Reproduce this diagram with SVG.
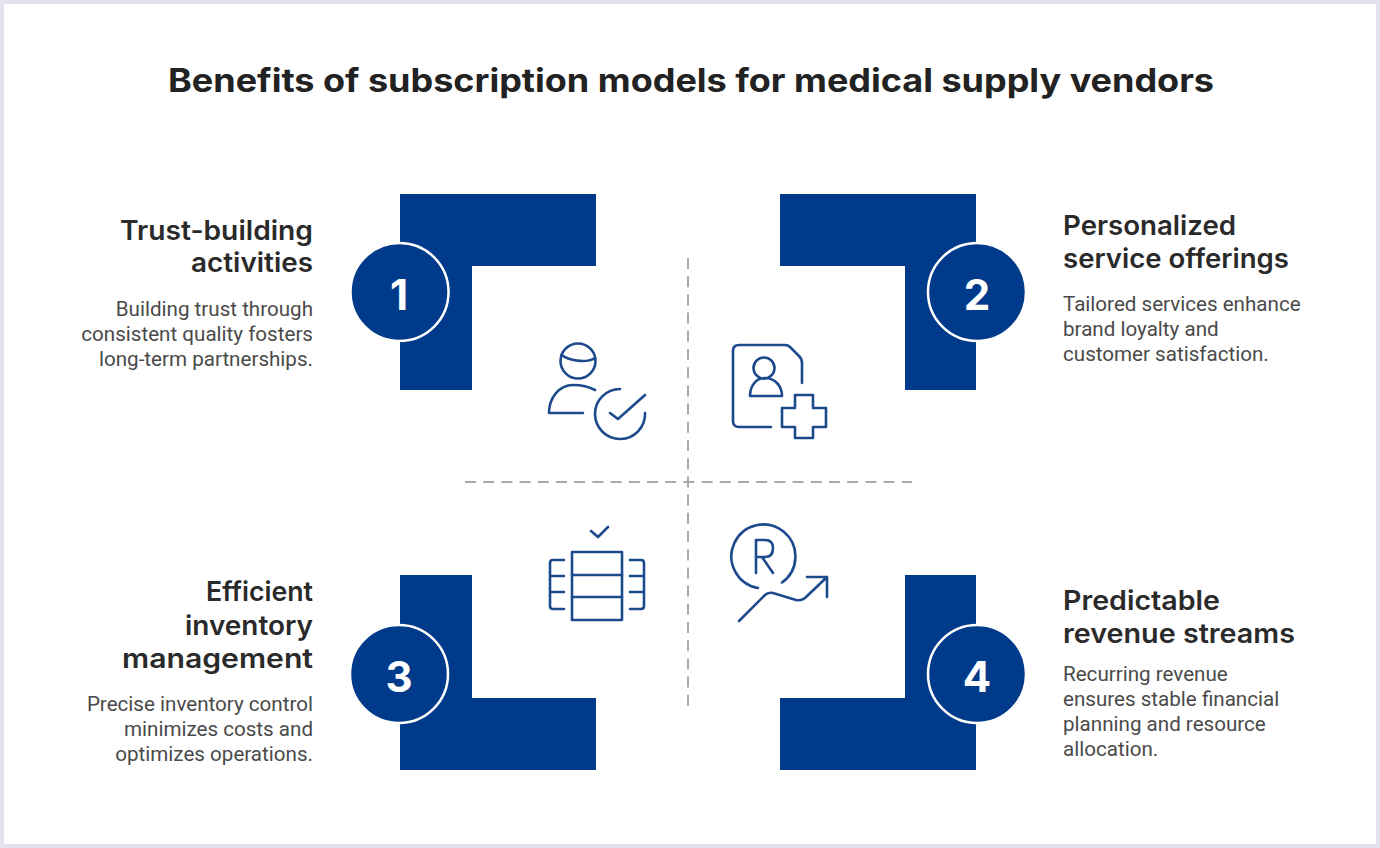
<svg xmlns="http://www.w3.org/2000/svg" width="1380" height="848" viewBox="0 0 1380 848">
<style>
.title{font-family:"Inter","Liberation Sans",sans-serif;font-weight:700;font-size:32px;fill:#222}
.h{font-family:"Inter","Liberation Sans",sans-serif;font-weight:600;font-size:27px;fill:#2a2a2a}
.b{font-family:"Roboto","Liberation Sans",sans-serif;font-size:20.6px;fill:#4a4a4a}
.e{text-anchor:end}
.blk{fill:#003a8a}
.c{fill:#003a8a;stroke:#fff;stroke-width:2.5}
.n{font-family:"Inter","Liberation Sans",sans-serif;font-weight:700;font-size:42px;fill:#fff;text-anchor:middle}
.i{fill:none;stroke:#1c4a8c;stroke-width:2.6;stroke-linecap:round;stroke-linejoin:round}
.d{stroke:#aaa;stroke-width:2;stroke-dasharray:11 7.2;fill:none}
</style>
<rect width="1380" height="848" fill="#e3e3f0"/>
<rect x="4" y="4" width="1372" height="840" fill="#fff"/>
<text class="title" x="168" y="92" textLength="1046" lengthAdjust="spacingAndGlyphs">Benefits of subscription models for medical supply vendors</text>
<g id="connectors">
<line class="d" x1="688" y1="258" x2="688" y2="706"/>
<line class="d" x1="465" y1="482" x2="912" y2="482"/>
</g>
<g id="node-1">
<path class="blk" d="M400 194H596V266H472V390H400Z"/>
<circle class="c" cx="399.5" cy="292" r="49"/>
<text class="n" x="399" y="310">1</text>
<text class="h e" x="313" y="240" textLength="193" lengthAdjust="spacingAndGlyphs">Trust-building</text>
<text class="h e" x="313" y="272" textLength="122" lengthAdjust="spacingAndGlyphs">activities</text>
<text class="b e" x="313" y="316">Building trust through</text>
<text class="b e" x="313" y="341">consistent quality fosters</text>
<text class="b e" x="313" y="366">long-term partnerships.</text>
<g class="i">
<circle cx="578" cy="361" r="17.5"/>
<path d="M561.500 355C568 360 586 364 595 358"/>
<path d="M595 390Q586 385 573 385C559 385 549 398 549 413H583"/>
<path d="M620 389A25 25 0 1 0 645 413"/>
<path d="M610 413L618 419L645 395"/>
</g>
</g>
<g id="node-2">
<path class="blk" d="M780 194H976V390H905V266H780Z"/>
<circle class="c" cx="977" cy="292" r="49"/>
<text class="n" x="977" y="310">2</text>
<text class="h" x="1063" y="235" textLength="173" lengthAdjust="spacingAndGlyphs">Personalized</text>
<text class="h" x="1063" y="268" textLength="226" lengthAdjust="spacingAndGlyphs">service offerings</text>
<text class="b" x="1063" y="311">Tailored services enhance</text>
<text class="b" x="1063" y="336">brand loyalty and</text>
<text class="b" x="1063" y="361">customer satisfaction.</text>
<g class="i">
<path d="M802 383V363Q802 359 799 356L790 347Q788 345 785 345H739Q733 345 733 351V421Q733 427 739 427H771"/>
<circle cx="764" cy="368" r="10.500"/>
<path d="M750 396C750 386 756 378 765 378C775 378 782 386 782 396Z"/>
<path d="M795 395H813V408H826V427H813V438H795V427H782V408H795Z"/>
</g>
</g>
<g id="node-3">
<path class="blk" d="M400 575H472V698H596V770H400Z"/>
<circle class="c" cx="399" cy="674" r="49"/>
<text class="n" x="399" y="692">3</text>
<text class="h e" x="313" y="601" textLength="107" lengthAdjust="spacingAndGlyphs">Efficient</text>
<text class="h e" x="313" y="635" textLength="128" lengthAdjust="spacingAndGlyphs">inventory</text>
<text class="h e" x="313" y="668" textLength="191" lengthAdjust="spacingAndGlyphs">management</text>
<text class="b e" x="313" y="711">Precise inventory control</text>
<text class="b e" x="313" y="736">minimizes costs and</text>
<text class="b e" x="313" y="761">optimizes operations.</text>
<g class="i">
<path d="M591 531L598 537L608 527"/>
<rect x="572" y="552" width="50" height="68"/>
<path d="M572 575H622M572 597H622"/>
<path d="M564 560H553Q550 560 550 563V606Q550 609 553 609H564M550 576H564M550 592H564"/>
<path d="M630 560H641Q644 560 644 563V606Q644 609 641 609H630M630 576H644M630 592H644"/>
</g>
</g>
<g id="node-4">
<path class="blk" d="M905 575H976V770H780V698H905Z"/>
<circle class="c" cx="977" cy="674" r="49"/>
<text class="n" x="977" y="692">4</text>
<text class="h" x="1063" y="610" textLength="157" lengthAdjust="spacingAndGlyphs">Predictable</text>
<text class="h" x="1063" y="643" textLength="232" lengthAdjust="spacingAndGlyphs">revenue streams</text>
<text class="b" x="1063" y="681">Recurring revenue</text>
<text class="b" x="1063" y="706">ensures stable financial</text>
<text class="b" x="1063" y="731">planning and resource</text>
<text class="b" x="1063" y="756">allocation.</text>
<g class="i">
<path d="M758 588A32 32 0 1 1 782 582.500"/>
<path d="M756 573V540H765Q773 540 773 548Q773 557 765 557H756M762 557L773 573"/>
<path d="M739 621L765 595Q768 592 773 593L796 600Q801 601 805 598L827 577M807 577H827V597"/>
</g>
</g>
</svg>
